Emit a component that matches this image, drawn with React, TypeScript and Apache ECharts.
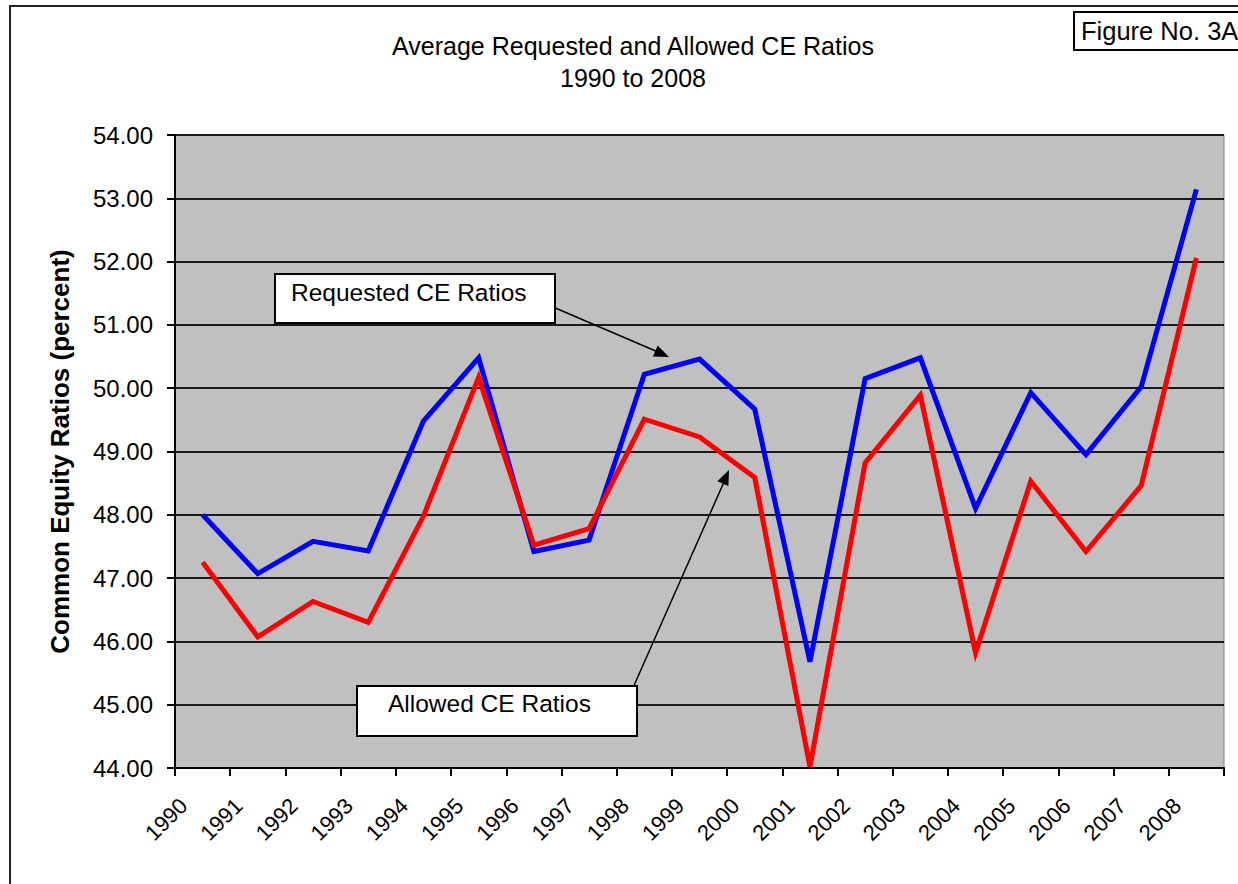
import React, { useEffect, useRef } from "react";
import * as echarts from "echarts";

const years = ["1990", "1991", "1992", "1993", "1994", "1995", "1996", "1997", "1998", "1999", "2000", "2001", "2002", "2003", "2004", "2005", "2006", "2007", "2008"];
const requested = [48.0, 47.07, 47.58, 47.43, 49.48, 50.48, 47.42, 47.6, 50.22, 50.46, 49.67, 45.68, 50.15, 50.48, 48.1, 49.93, 48.95, 50.02, 53.14];
const allowed = [47.25, 46.07, 46.63, 46.3, 47.98, 50.17, 47.52, 47.78, 49.51, 49.23, 48.59, 44.02, 48.82, 49.89, 45.82, 48.53, 47.42, 48.46, 52.06];
const yMin = 44;
const yMax = 54;
const yStep = 1;

const titleText = "Average Requested and Allowed CE Ratios\n1990 to 2008";
const yAxisTitle = "Common Equity Ratios (percent)";
const requestedLabel = "Requested CE Ratios";
const allowedLabel = "Allowed CE Ratios";
const figureLabel = "Figure No. 3A";

const FONT = "Arial, 'Liberation Sans', sans-serif";

export default function App() {
  const ref = useRef<HTMLDivElement>(null);
  useEffect(() => {
    if (!ref.current) return;
    const chart = echarts.init(ref.current, null, { renderer: "svg" });
    chart.setOption({
      animation: false,
      backgroundColor: "#ffffff",
      textStyle: { fontFamily: FONT },
      title: {
        text: titleText,
        left: 628,
        top: 25,
        textAlign: "center",
        textStyle: { fontFamily: FONT, fontSize: 25, fontWeight: "normal", color: "#000", lineHeight: 32 },
      },
      grid: {
        left: 175,
        top: 135,
        width: 1049,
        height: 633,
        show: true,
        backgroundColor: "#C0C0C0",
        borderColor: "#808080",
        borderWidth: 1,
      },
      xAxis: {
        type: "category",
        data: years,
        boundaryGap: true,
        axisLine: { show: true, lineStyle: { color: "#000", width: 2 } },
        axisTick: { show: true, length: 8, lineStyle: { color: "#000", width: 2 } },
        axisLabel: {
          rotate: 45,
          interval: 0,
          fontSize: 22,
          fontFamily: FONT,
          color: "#000",
          margin: 15,
          padding: [0, 27, 0, 0],
        },
        splitLine: { show: false },
      },
      yAxis: {
        type: "value",
        min: yMin,
        max: yMax,
        interval: yStep,
        name: yAxisTitle,
        nameLocation: "middle",
        nameGap: 102,
        nameTextStyle: { fontFamily: FONT, fontSize: 26, fontWeight: "bold", color: "#000" },
        axisLine: { show: true, lineStyle: { color: "#000", width: 2 } },
        axisTick: { show: true, length: 8, lineStyle: { color: "#000", width: 2 } },
        axisLabel: {
          fontSize: 24,
          fontFamily: FONT,
          color: "#000",
          margin: 22,
          formatter: (v: number) => v.toFixed(2),
        },
        splitLine: { show: true, lineStyle: { color: "#1a1a1a", width: 2 } },
      },
      series: [
        {
          name: requestedLabel,
          type: "line",
          data: requested,
          showSymbol: false,
          symbol: "none",
          lineStyle: { color: "#0000FF", width: 5, join: "miter" },
          z: 3,
        },
        {
          name: allowedLabel,
          type: "line",
          data: allowed,
          showSymbol: false,
          symbol: "none",
          lineStyle: { color: "#FF0000", width: 5, join: "miter" },
          z: 4,
        },
      ],
      graphic: [
        {
          type: "rect",
          z: 100,
          shape: { x: 10, y: 6, width: 1400, height: 1000 },
          style: { fill: "none", stroke: "#222", lineWidth: 2 },
          silent: true,
        },
        {
          type: "rect",
          z: 100,
          shape: { x: 1074, y: 12, width: 220, height: 38 },
          style: { fill: "#fff", stroke: "#000", lineWidth: 2 },
        },
        {
          type: "text",
          z: 101,
          x: 1081,
          y: 31,
          style: { text: figureLabel, font: `25.5px ${FONT}`, fill: "#000", textVerticalAlign: "middle" },
        },
        {
          type: "line",
          z: 100,
          shape: { x1: 553, y1: 307, x2: 658, y2: 352 },
          style: { stroke: "#000", lineWidth: 1.5 },
        },
        {
          type: "polygon",
          z: 100,
          shape: { points: [[669, 357], [652.9, 356.5], [657.7, 345.5]] },
          style: { fill: "#000" },
        },
        {
          type: "rect",
          z: 102,
          shape: { x: 275, y: 274, width: 280, height: 49 },
          style: { fill: "#fff", stroke: "#000", lineWidth: 2 },
        },
        {
          type: "text",
          z: 103,
          x: 291,
          y: 292,
          style: { text: requestedLabel, font: `24.5px ${FONT}`, fill: "#000", textVerticalAlign: "middle" },
        },
        {
          type: "line",
          z: 100,
          shape: { x1: 632, y1: 690, x2: 724, y2: 482 },
          style: { stroke: "#000", lineWidth: 1.5 },
        },
        {
          type: "polygon",
          z: 100,
          shape: { points: [[729, 470], [728.4, 486.1], [717.4, 481.3]] },
          style: { fill: "#000" },
        },
        {
          type: "rect",
          z: 102,
          shape: { x: 357, y: 686, width: 280, height: 50 },
          style: { fill: "#fff", stroke: "#000", lineWidth: 2 },
        },
        {
          type: "text",
          z: 103,
          x: 388,
          y: 703,
          style: { text: allowedLabel, font: `24.5px ${FONT}`, fill: "#000", textVerticalAlign: "middle" },
        },
      ],
    });
    return () => chart.dispose();
  }, []);
  return (
    <div
      ref={ref}
      style={{ position: "absolute", left: 0, top: 0, width: 1238, height: 884 }}
    />
  );
}
